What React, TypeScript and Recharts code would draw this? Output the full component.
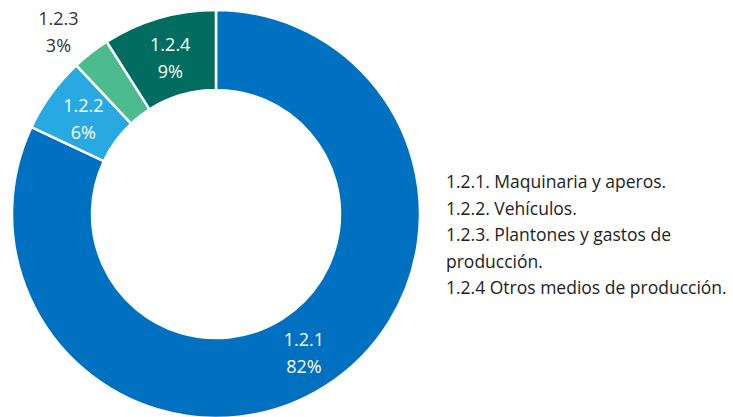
import React from "react";
import { PieChart, Pie, Cell, Legend } from "recharts";

const categories = ["1.2.1", "1.2.2", "1.2.3", "1.2.4"];
const shares = [82, 6, 3, 9];
const legendLabels = [
  "1.2.1. Maquinaria y aperos.",
  "1.2.2. Vehículos.",
  "1.2.3. Plantones y gastos de producción.",
  "1.2.4 Otros medios de producción.",
];
const colors = ["#0070C0", "#29A9E1", "#4CBB8E", "#006D60"];

const data = categories.map((c, i) => ({ name: c, value: shares[i] }));

const FONT = "'Open Sans', Lato, sans-serif";
const RAD = Math.PI / 180;

const renderLabel = (props: any) => {
  const { cx, cy, midAngle, innerRadius, outerRadius, index } = props;
  const outside = index === 2;
  const r = outside ? outerRadius + 40 : (innerRadius + outerRadius) / 2;
  let x = cx + r * Math.cos(-midAngle * RAD);
  let y = cy + r * Math.sin(-midAngle * RAD);
  if (outside) {
    x -= 8;
    y += 10;
  }
  const fill = outside ? "#333333" : "#ffffff";
  return (
    <text
      x={x}
      y={y}
      textAnchor="middle"
      fill={fill}
      fontFamily={FONT}
      fontSize={18}
    >
      <tspan x={x} dy={-6}>{categories[index]}</tspan>
      <tspan x={x} dy={27}>{shares[index]}%</tspan>
    </text>
  );
};

const renderLegend = () => (
  <div
    style={{
      fontFamily: FONT,
      fontSize: 17.5,
      lineHeight: "26.5px",
      color: "#222",
      width: 284,
      textAlign: "left",
      whiteSpace: "normal",
    }}
  >
    {legendLabels.map((l) => (
      <div key={l}>{l}</div>
    ))}
  </div>
);

export default function App() {
  return (
    <div style={{ position: "absolute", left: 0, top: 0, width: 733, height: 417, background: "#fff" }}>
      <PieChart width={733} height={417} margin={{ top: 0, right: 0, bottom: 0, left: 0 }}>
        <Pie
          data={data}
          dataKey="value"
          nameKey="name"
          cx={216}
          cy={214}
          innerRadius={124}
          outerRadius={204}
          startAngle={90}
          endAngle={-270}
          stroke="#ffffff"
          strokeWidth={2.5}
          label={renderLabel}
          labelLine={false}
          isAnimationActive={false}
        >
          {data.map((d, i) => (
            <Cell key={d.name} fill={colors[i]} />
          ))}
        </Pie>
        <Legend
          content={renderLegend}
          wrapperStyle={{ position: "absolute", left: 446, top: 168, width: 284 }}
        />
      </PieChart>
    </div>
  );
}
